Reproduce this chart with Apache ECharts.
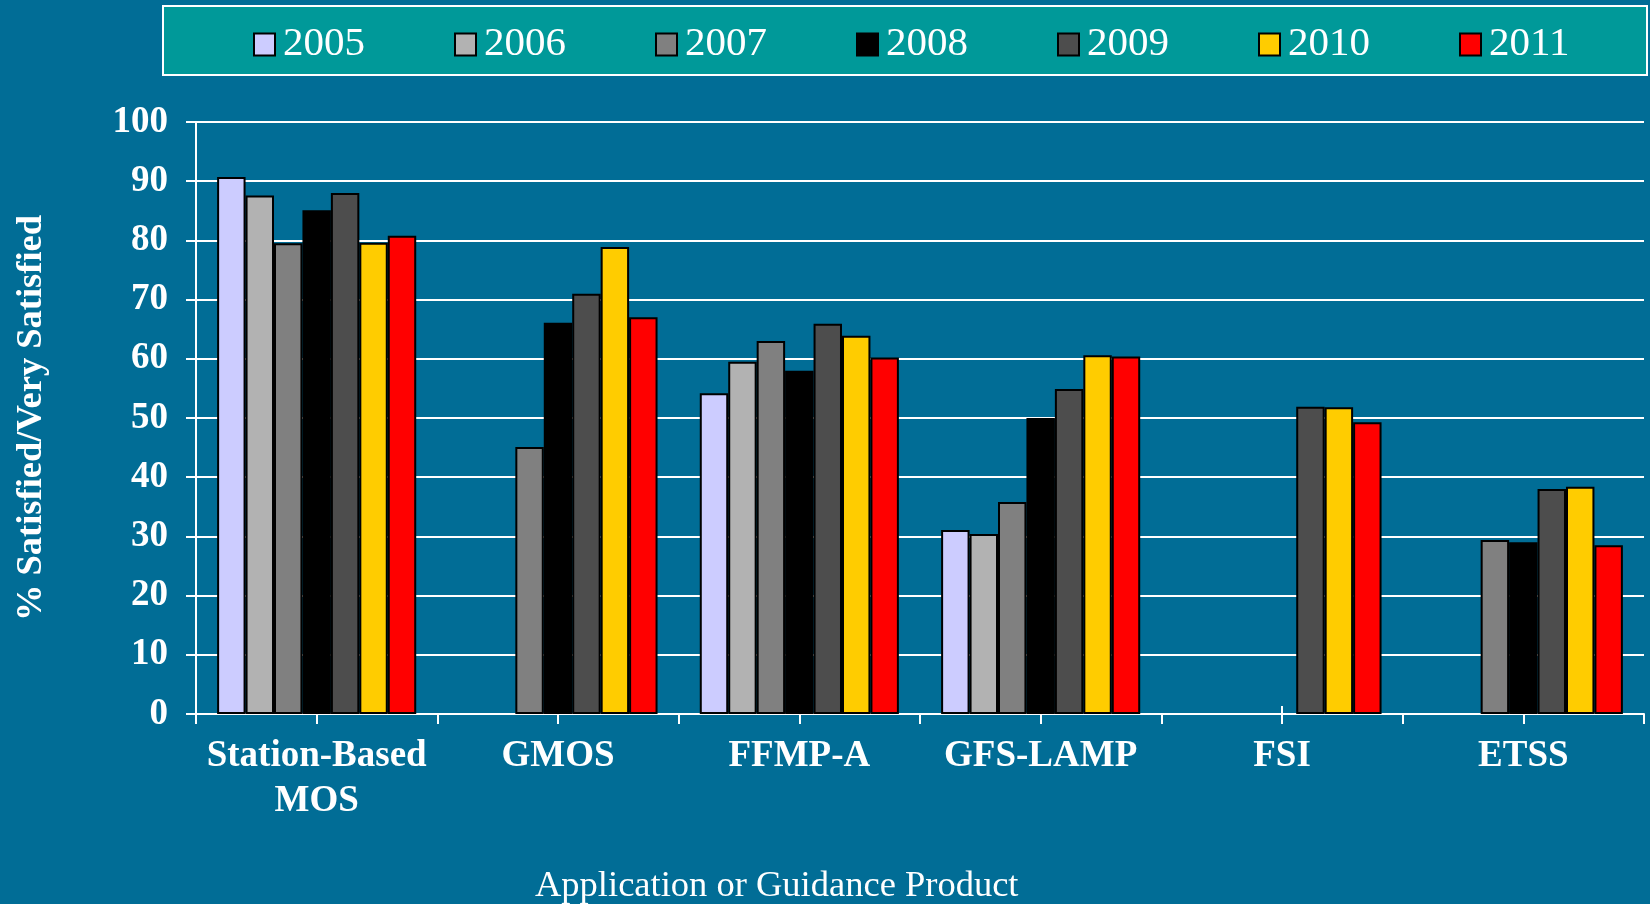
<!DOCTYPE html>
<html>
<head>
<meta charset="utf-8">
<script src="https://cdn.jsdelivr.net/npm/echarts@6/dist/echarts.min.js"></script>
<style>
  html, body { margin: 0; padding: 0; background: #016d96; }
  #chart { width: 1650px; height: 904px; }
</style>
</head>
<body>
<div id="chart"></div>
<script>
// categories and yearly values (% satisfied / very satisfied)
var categories = ['Station-Based\nMOS', 'GMOS', 'FFMP-A', 'GFS-LAMP', 'FSI', 'ETSS'];
var years = ['2005', '2006', '2007', '2008', '2009', '2010', '2011'];
var y2005 = [90.7, null, 54.2, 31.1, null, null];
var y2006 = [87.6, null, 59.5, 30.4, null, null];
var y2007 = [79.5, 45.1, 63.0, 35.8, null, 29.4];
var y2008 = [85.1, 66.1, 58.0, 50.0, null, 29.0];
var y2009 = [88.0, 71.0, 65.9, 54.9, 51.9, 38.0];
var y2010 = [79.6, 78.9, 63.9, 60.6, 51.8, 38.4];
var y2011 = [80.8, 67.0, 60.2, 60.4, 49.3, 28.5];
var yearColors = ['#ccccff', '#b2b2b2', '#808080', '#000000', '#4d4d4d', '#ffcc00', '#ff0000'];

var serif = '"Liberation Serif", "Times New Roman", serif';
var allValues = [y2005, y2006, y2007, y2008, y2009, y2010, y2011];

var series = years.map(function(year, i) {
    return {
        name: year,
        type: 'bar',
        xAxisIndex: 0,
        barGap: '0%',
        barCategoryGap: '17.5%',
        data: allValues[i],
        itemStyle: { color: yearColors[i], borderColor: '#000', borderWidth: 2 }
    };
});

// extra axes only draw the tick marks in the middle of each category
function tickAxis(inside, len) {
    return {
        type: 'category',
        data: categories,
        position: 'bottom',
        axisLine: { show: false },
        axisLabel: { show: false },
        splitLine: { show: false },
        axisTick: { show: true, inside: inside, alignWithLabel: true, length: len,
            lineStyle: { color: '#fff', width: 2 } }
    };
}

var chart = echarts.init(document.getElementById('chart'));
var option = {
    backgroundColor: '#016d96',
    animation: false,
    graphic: [{
        type: 'rect',
        shape: { x: 163, y: 6, width: 1484, height: 69 },
        style: { fill: '#009999', stroke: '#ffffff', lineWidth: 2 },
        z: 0
    }, {
        type: 'text',
        left: 535,
        top: 868,
        style: { text: 'Application or Guidance Product', fill: '#fff', font: '36.5px ' + serif }
    }],
    legend: {
        left: 248,
        top: 19,
        itemWidth: 21,
        itemHeight: 22,
        itemGap: 89,
        icon: 'rect',
        data: years,
        textStyle: { color: '#fff', fontFamily: serif, fontSize: 41, padding: [0, 0, 0, 3] },
        z: 5
    },
    grid: { left: 196, right: 6, top: 122, bottom: 190 },
    xAxis: [{
        type: 'category',
        data: categories,
        axisLine: { lineStyle: { color: '#fff', width: 2 } },
        axisTick: { show: true, length: 10, lineStyle: { color: '#fff', width: 2 } },
        axisLabel: {
            color: '#fff', fontFamily: serif, fontWeight: 'bold', fontSize: 37,
            lineHeight: 45, margin: 20, interval: 0
        }
    }, tickAxis(false, 10), tickAxis(true, 8)],
    yAxis: {
        type: 'value',
        min: 0,
        max: 100,
        interval: 10,
        name: '% Satisfied/Very Satisfied',
        nameLocation: 'middle',
        nameRotate: 90,
        nameGap: 146,
        nameTextStyle: { color: '#fff', fontFamily: serif, fontWeight: 'bold', fontSize: 36.5 },
        axisLine: { show: true, lineStyle: { color: '#fff', width: 2 } },
        axisTick: { show: true, length: 10, lineStyle: { color: '#fff', width: 2 } },
        axisLabel: { color: '#fff', fontFamily: serif, fontWeight: 'bold', fontSize: 37, margin: 28 },
        splitLine: { show: true, lineStyle: { color: '#fff', width: 2 } }
    },
    series: series
};
chart.setOption(option);
</script>
</body>
</html>
